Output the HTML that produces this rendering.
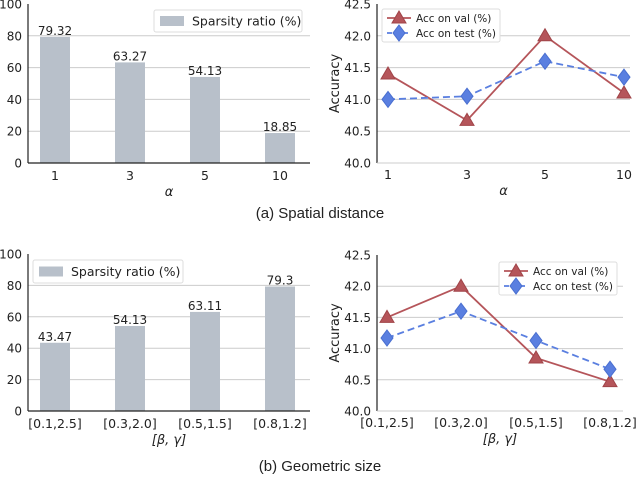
<!DOCTYPE html>
<html><head><meta charset="utf-8"><style>
body{margin:0;background:#fff}
svg{display:block;font-family:"DejaVu Sans","Liberation Sans",sans-serif}
</style></head><body>
<svg id="s" width="640" height="490" viewBox="0 0 640 490">
<text x="320" y="218" text-anchor="middle" font-size="15" font-family="Liberation Sans, sans-serif" fill="#222">(a) Spatial distance</text>
<text x="320" y="471" text-anchor="middle" font-size="15" font-family="Liberation Sans, sans-serif" fill="#222">(b) Geometric size</text>
</svg>
<script>
const catsA=["1","3","5","10"];
const sparsA=[79.32,63.27,54.13,18.85];
const sparsLabelsA=["79.32","63.27","54.13","18.85"];
const valA=[41.4,40.67,42.0,41.1];
const testA=[41.0,41.05,41.6,41.35];
const catsB=["[0.1,2.5]","[0.3,2.0]","[0.5,1.5]","[0.8,1.2]"];
const sparsB=[43.47,54.13,63.11,79.3];
const sparsLabelsB=["43.47","54.13","63.11","79.3"];
const valB=[41.5,42.0,40.85,40.47];
const testB=[41.17,41.6,41.13,40.67];
const barTicks=[0,20,40,60,80,100];
const accTicks=[40.0,40.5,41.0,41.5,42.0,42.5];

const S=document.getElementById('s');
const NS='http://www.w3.org/2000/svg';
function mk(tag,attrs,parent){const e=document.createElementNS(NS,tag);for(const k in attrs)e.setAttribute(k,attrs[k]);(parent||S).appendChild(e);return e;}
function txt(x,y,t,size,anchor,parent){const e=mk('text',{x:x,y:y,'font-size':size,'text-anchor':anchor||'middle',fill:'#222'},parent);e.textContent=t;return e;}

function barChart(name,cats,vals,labels,x0,x1,yTop,yBot,xs,legend,xlabel){
  const g=mk('g',{});
  
  
  const ys=v=>yBot-(v-0)/100*(yBot-yTop);
  barTicks.forEach(t=>{
    if(t>0&&t<100){const l=mk('line',{x1:x0,x2:x1,y1:ys(t),y2:ys(t),stroke:'#ccc','stroke-width':1},g);}
    const tl=txt(x0-6,ys(t)+4.5,String(t),12,'end',g);
    
  });
  cats.forEach((c,i)=>{
    const r=mk('rect',{x:xs[i]-15,y:ys(vals[i]),width:30,height:yBot-ys(vals[i]),fill:'#b8c0ca'},g);
    
    
    const v=txt(xs[i],ys(vals[i])-2,labels[i],12,'middle',g);
    
    const tl=txt(xs[i],yBot+17,c,12.5,'middle',g);
    
  });
  mk('line',{x1:x0,x2:x0,y1:yTop,y2:yBot,stroke:'#222','stroke-width':1.2},g);
  mk('line',{x1:x0,x2:x1,y1:yBot,y2:yBot,stroke:'#222','stroke-width':1.2},g);
  const xl=txt((x0+x1)/2,yBot+33,xlabel,13,'middle',g);xl.setAttribute('font-style','italic');
  
  const lg=mk('g',{},g);
  
  mk('rect',{x:legend[0],y:legend[1],width:legend[2],height:legend[3],fill:'#fff',stroke:'#ddd',rx:2},lg);
  mk('rect',{x:legend[0]+6,y:legend[1]+legend[3]/2-5,width:24,height:10,fill:'#b8c0ca'},lg);
  txt(legend[0]+38,legend[1]+legend[3]/2+4.5,'Sparsity ratio (%)',12.5,'start',lg);
}
function lineChart(name,cats,val,test,x0,x1,yTop,yBot,xs,legend,xlabel){
  const g=mk('g',{});
  
  
  const ys=v=>yBot-(v-40)/2.5*(yBot-yTop);
  accTicks.forEach(t=>{
    if(t>40&&t<42.5){const l=mk('line',{x1:x0,x2:x1,y1:ys(t),y2:ys(t),stroke:'#ccc','stroke-width':1},g);}
    const tl=txt(x0-6,ys(t)+4.5,t.toFixed(1),12,'end',g);
    
  });
  mk('line',{x1:x0,x2:x0,y1:yTop,y2:yBot,stroke:'#222','stroke-width':1.2},g);
  mk('line',{x1:x0,x2:x1,y1:yBot,y2:yBot,stroke:'#ccc','stroke-width':1},g);
  cats.forEach((c,i)=>{
    const tl=txt(xs[i],yBot+16,c,12.5,'middle',g);
    
  });
  const yl=txt(0,0,'Accuracy',13,'middle',g);
  yl.setAttribute('transform','translate('+(x0-38)+','+((yTop+yBot)/2)+') rotate(-90)');
  
  const xl=txt((x0+x1)/2,yBot+32,xlabel,13,'middle',g);xl.setAttribute('font-style','italic');
  
  const tri=(x,y,p)=>mk('polygon',{points:(x)+','+(y-7)+' '+(x-7)+','+(y+5)+' '+(x+7)+','+(y+5),fill:'#b5555a',stroke:'#a04448'},p);
  const dia=(x,y,p)=>mk('polygon',{points:x+','+(y-8)+' '+(x+6)+','+y+' '+x+','+(y+8)+' '+(x-6)+','+y,fill:'#5a7fe0',stroke:'#4a6fd0'},p);
  const pv=mk('polyline',{points:val.map((v,i)=>xs[i]+','+ys(v)).join(' '),fill:'none',stroke:'#b5555a','stroke-width':1.8},g);
  
  const pt=mk('polyline',{points:test.map((v,i)=>xs[i]+','+ys(v)).join(' '),fill:'none',stroke:'#5a7fe0','stroke-width':1.8,'stroke-dasharray':'7,4'},g);
  
  val.forEach((v,i)=>{const m=tri(xs[i],ys(v),g);});
  test.forEach((v,i)=>{const m=dia(xs[i],ys(v),g);});
  const lg=mk('g',{},g);
  
  const [lx,ly,lw,lh]=legend;
  mk('rect',{x:lx,y:ly,width:lw,height:lh,fill:'#fff',stroke:'#ddd',rx:2},lg);
  mk('line',{x1:lx+5,x2:lx+29,y1:ly+9,y2:ly+9,stroke:'#b5555a','stroke-width':1.8},lg);
  tri(lx+17,ly+9,lg);
  mk('line',{x1:lx+5,x2:lx+29,y1:ly+24,y2:ly+24,stroke:'#5a7fe0','stroke-width':1.8,'stroke-dasharray':'5,3'},lg);
  dia(lx+17,ly+24,lg);
  txt(lx+34,ly+13,'Acc on val (%)',10.5,'start',lg);
  txt(lx+34,ly+28,'Acc on test (%)',10.5,'start',lg);
}
barChart('bar-chart-a',catsA,sparsA,sparsLabelsA,28,310,4,163,[55,130,205,280],[154,10,148,22],'α');
lineChart('line-chart-a',catsA,valA,testA,377,630,4,163,[388,467,545,624],[382,9,118,33],'α');
barChart('bar-chart-b',catsB,sparsB,sparsLabelsB,28,310,254,411,[55,130,205,280],[33,260,150,23],'[β, γ]');
lineChart('line-chart-b',catsB,valB,testB,377,623,255,411,[387,461,536,610],[499,262,118,33],'[β, γ]');
</script>
</body></html>
